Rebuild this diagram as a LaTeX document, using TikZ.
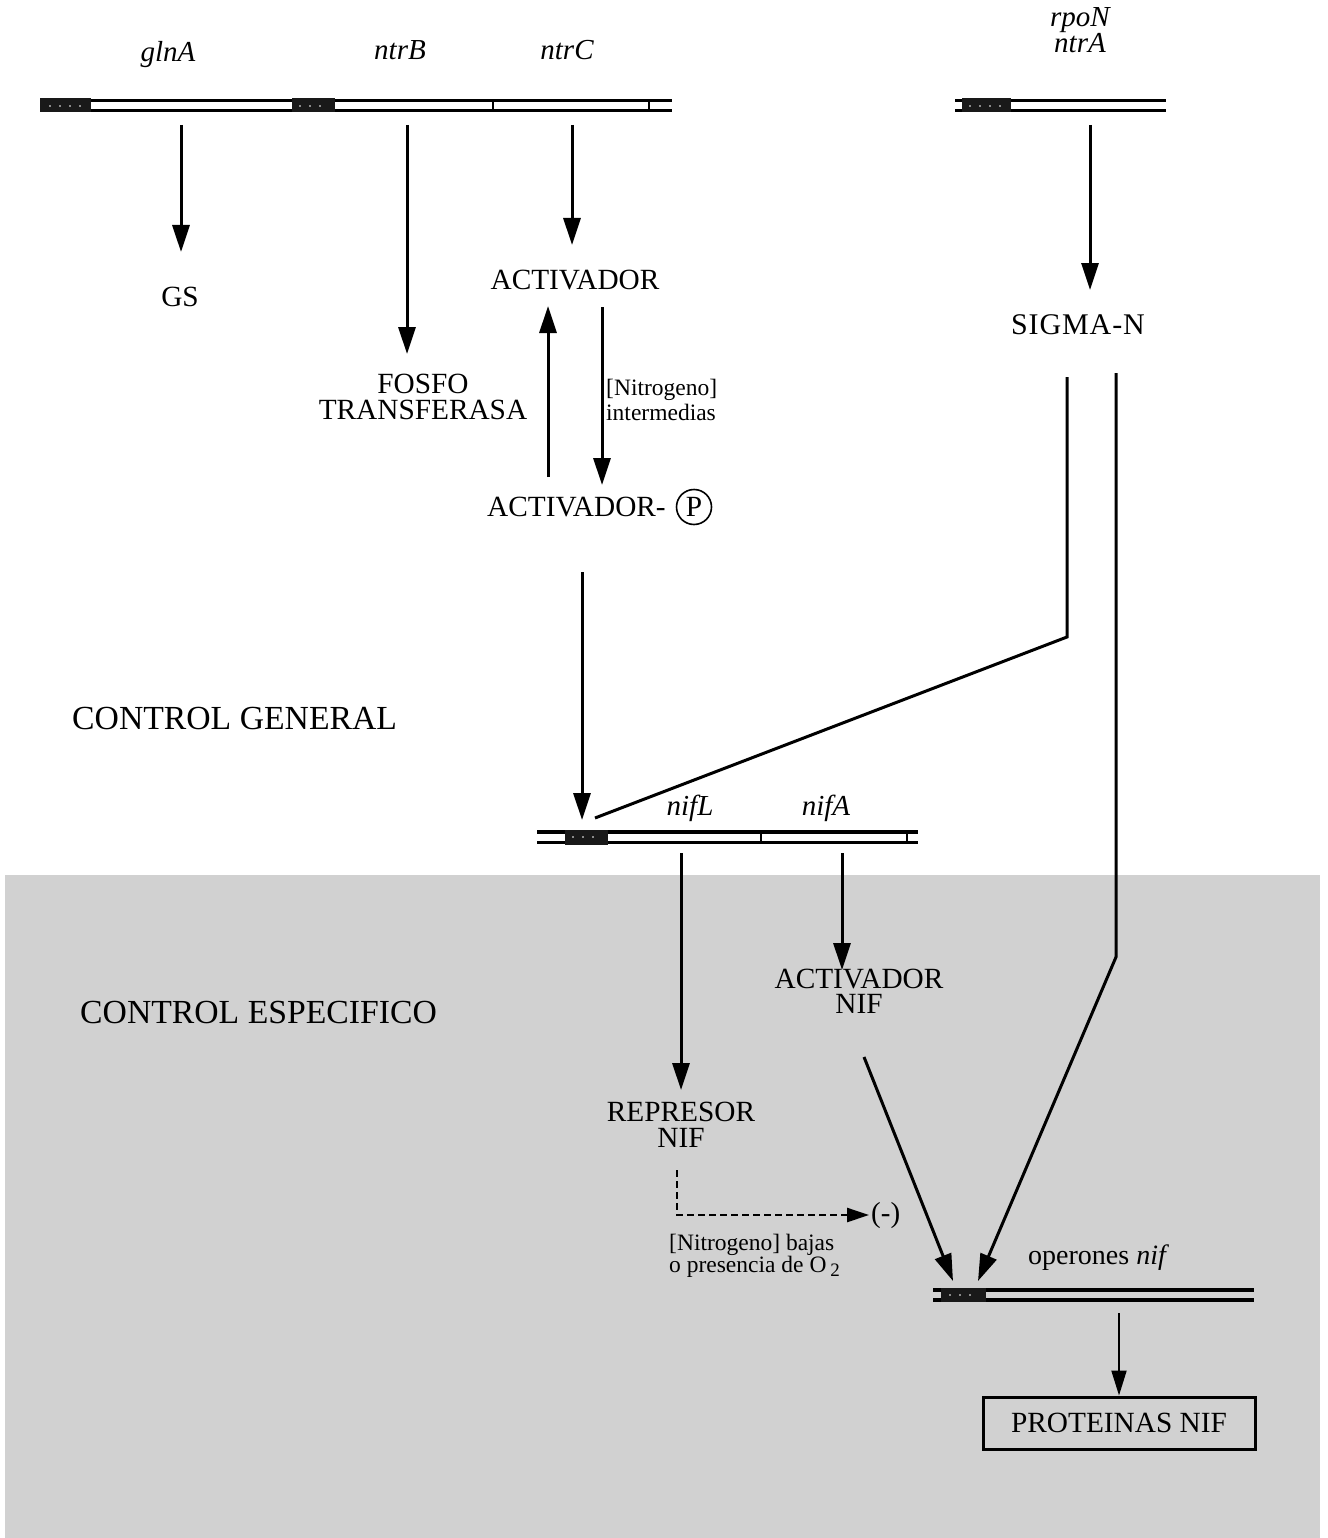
\documentclass[tikz,border=0pt]{standalone}
\usepackage{fontspec}
\setmainfont{Liberation Serif}
\usetikzlibrary{arrows.meta}
\begin{document}
\begin{tikzpicture}[x=1pt,y=-1pt,
  lbl/.style={inner sep=0pt, anchor=base, align=center, font=\fontsize{29.3}{26}\selectfont},
  gene/.style={inner sep=0pt, anchor=base, align=center, font=\fontsize{29}{26}\selectfont\itshape},
  small/.style={inner sep=0pt, anchor=base west, align=left, font=\fontsize{23.5}{25}\selectfont},
  big/.style={inner sep=0pt, anchor=base west, font=\fontsize{33.7}{34}\selectfont},
  arr/.style={line width=3pt, -{Triangle[length=27pt,width=17pt]}},
  thinarr/.style={line width=2pt, -{Triangle[length=25pt,width=15pt]}},
  dasharr/.style={line width=2.5pt, dash pattern=on 7pt off 4pt, -{Triangle[length=22pt,width=14pt]}},
  strand/.style={line width=3.5pt},
  promoter/.style={fill=black!90, draw=none},
  sep/.style={line width=2pt},
]
\useasboundingbox (0,0) rectangle (1327,1538);
% shaded region
\fill[black!18] (5,875) rectangle (1320,1538);

% ---------- top DNA (glnA ntrB ntrC)
\draw[strand] (40,100.5) -- (672,100.5);
\draw[strand] (40,110.5) -- (672,110.5);
\fill[promoter] (40,98.5) rectangle (91,112.5);
\fill[promoter] (292,98.5) rectangle (335,112.5);
\draw[sep] (493,100.5) -- (493,110.5);
\draw[sep] (649,100.5) -- (649,110.5);
\foreach \xx in {50,60,70,80,300,310,320}{\fill[white] (\xx,106) circle (0.9);}

% ---------- rpoN DNA
\draw[strand] (955,100.5) -- (1166,100.5);
\draw[strand] (955,110.5) -- (1166,110.5);
\fill[promoter] (962,98.5) rectangle (1011,112.5);
\foreach \xx in {970,980,990,1000}{\fill[white] (\xx,106) circle (0.9);}

% ---------- nif regulatory DNA
\draw[strand] (537,832) -- (918,832);
\draw[strand] (537,842.5) -- (918,842.5);
\fill[promoter] (565,830) rectangle (608,844.5);
\draw[sep] (761,832) -- (761,842.5);
\draw[sep] (907,832) -- (907,842.5);
\foreach \xx in {573,583,593}{\fill[white] (\xx,837) circle (0.9);}

% ---------- operon DNA
\draw[strand] (933,1290) -- (1254,1290);
\draw[strand] (933,1300) -- (1254,1300);
\fill[promoter] (941,1288) rectangle (986,1302);
\foreach \xx in {950,960,970}{\fill[white] (\xx,1295) circle (0.9);}

% ---------- gene labels
\node[gene] (glnA) at (168,62) {glnA};
\node[gene] (ntrB) at (400,60) {ntrB};
\node[gene] (ntrC) at (567,60) {ntrC};
\node[gene] (rpo) at (1080,53) {rpoN\\ntrA};
\node[gene] (nifL) at (690,815) {nifL};
\node[gene] (nifA) at (826,815) {nifA};

% ---------- product labels
\node[lbl] (GS) at (180,306) {GS};
\node[lbl] (fosfo) at (423,419) {FOSFO\\TRANSFERASA};
\node[lbl] (act) at (575,289) {ACTIVADOR};
\node[lbl, anchor=base west] (actp) at (487,516) {ACTIVADOR-};
\node[circle, draw, line width=1.6pt, minimum size=35pt, inner sep=0pt,
      font=\fontsize{29.3}{26}\selectfont] (P) at (694,507) {P};
\node[small] (nitro) at (606,420) {[Nitrogeno]\\intermedias};
\node[lbl, font=\fontsize{30}{26}\selectfont\addfontfeatures{LetterSpace=3}] (sigma) at (1078,334) {SIGMA-N};
\node[big] (cg) at (72,729) {CONTROL GENERAL};
\node[big] (ce) at (80,1023) {CONTROL ESPECIFICO};
\node[lbl, font=\fontsize{29.3}{25}\selectfont] (anif) at (859,1013) {ACTIVADOR\\NIF};
\node[lbl] (rnif) at (681,1147) {REPRESOR\\NIF};
\node[inner sep=0pt, anchor=west, font=\fontsize{29}{26}\selectfont] (neg) at (871,1216) {(-)};
\node[small, font=\fontsize{23.5}{22}\selectfont] (baj) at (669,1272) {[Nitrogeno] bajas\\o presencia de O\,\raisebox{-4pt}{\fontsize{19}{19}\selectfont 2}};
\node[inner sep=0pt, anchor=base west, font=\fontsize{28}{26}\selectfont] (oper) at (1028,1264) {operones \textit{nif}};
\node[draw, line width=3pt, minimum width=272pt, minimum height=52pt, inner sep=0pt,
      font=\fontsize{29.3}{26}\selectfont] (prot) at (1119,1423) {PROTEINAS NIF};

% ---------- coordinates for connectors
\coordinate (g1) at (181,125);  \coordinate (g1e) at (181,252);
\coordinate (b1) at (407,125);  \coordinate (b1e) at (407,354);
\coordinate (c1) at (572,125);  \coordinate (c1e) at (572,245);
\coordinate (r1) at (1090,125); \coordinate (r1e) at (1090,290);
\coordinate (up1) at (548,477); \coordinate (up1e) at (548,306);
\coordinate (dn1) at (602,307); \coordinate (dn1e) at (602,485);
\coordinate (ap1) at (582,572); \coordinate (ap1e) at (582,820);
\coordinate (s1) at (1067,377); \coordinate (s1b) at (1067,637); \coordinate (s1e) at (595,818);
\coordinate (s2) at (1116,373); \coordinate (s2b) at (1116,957); \coordinate (s2e) at (978,1281);
\coordinate (l1) at (681,853);  \coordinate (l1e) at (681,1090);
\coordinate (a1) at (842,853);  \coordinate (a1e) at (842,970);
\coordinate (an1) at (864,1057); \coordinate (an1e) at (953,1281);
\coordinate (d1) at (677,1170); \coordinate (d1b) at (677,1215); \coordinate (d1e) at (869,1215);
\coordinate (o1) at (1119,1313);

% ---------- connectors
\draw[arr] (g1) -- (g1e);
\draw[arr] (b1) -- (b1e);
\draw[arr] (c1) -- (c1e);
\draw[arr] (r1) -- (r1e);
\draw[arr] (up1) -- (up1e);
\draw[arr] (dn1) -- (dn1e);
\draw[arr] (ap1) -- (ap1e);
\draw[line width=3pt, line join=miter] (s1) -- (s1b) -- (s1e);
\draw[arr, line join=miter] (s2) -- (s2b) -- (s2e);
\draw[arr] (l1) -- (l1e);
\draw[arr] (a1) -- (a1e);
\draw[arr] (an1) -- (an1e);
\draw[dasharr] (d1) -- (d1b) -- (d1e);
\draw[thinarr] (o1) -- (prot.north);
\end{tikzpicture}
\end{document}
